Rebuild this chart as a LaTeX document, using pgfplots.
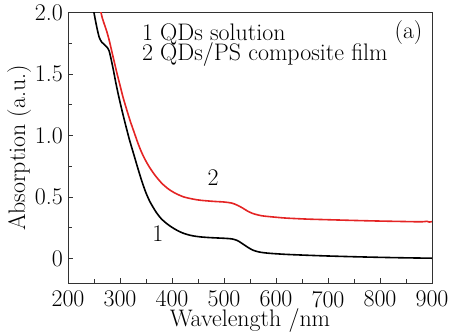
\documentclass[border=0pt]{standalone}
\usepackage{pgfplots}
\pgfplotsset{compat=1.18}
\definecolor{myred}{RGB}{228,36,36}
\definecolor{axgray}{RGB}{50,50,50}
\begin{document}
\begin{tikzpicture}[font=\fontsize{24}{28}\selectfont]
\begin{axis}[
  scale only axis, width=364bp, height=270.6bp,
  xmin=200, xmax=900, ymin=-0.2, ymax=2.0,
  xtick={200,300,...,900}, minor xtick={250,350,...,850},
  ytick={0,0.5,1.0,1.5,2.0}, yticklabels={0,0.5,1.0,1.5,2.0},
  minor ytick={0.25,0.75,1.25,1.75},
  tick pos=left, tick align=inside,
  major tick length=5bp, minor tick length=4bp,
  axis line style={axgray, line width=0.9bp},
  every tick/.style={axgray, line width=0.9bp},
  xticklabel style={inner sep=0pt, anchor=north, yshift=-7.5bp},
  yticklabel style={inner sep=0pt, anchor=east, xshift=-5bp},
  /pgf/number format/assume math mode=true,
  xlabel={Wavelength /nm},
  ylabel={Absorption (a.u.)},
  xlabel style={at={(axis description cs:0.5,-0.1590)}, anchor=base, inner sep=0pt},
  ylabel style={at={(axis description cs:-0.1181,0.5)}, anchor=base, inner sep=0pt, rotate=0},
  clip=true,
]
\addplot[black, line width=1.6bp, smooth, tension=0.45] coordinates {
(244,2.15) (250,2.0) (255,1.89) (260,1.80) (265,1.76) (270,1.74) (275,1.72)
(279,1.69) (282,1.64) (287,1.54) (292,1.43) (297,1.33) (303,1.22) (310,1.10)
(318,0.97) (326,0.855) (334,0.74) (342,0.63) (350,0.535) (358,0.46) (370,0.375)
(380,0.322) (390,0.285) (400,0.255) (410,0.23) (420,0.21) (430,0.196) (440,0.186)
(455,0.177) (475,0.171) (500,0.166) (515,0.161) (525,0.149) (533,0.129)
(540,0.109) (548,0.087) (556,0.069) (566,0.056) (576,0.049) (590,0.043)
(620,0.035) (660,0.028) (700,0.022) (750,0.016) (800,0.011) (850,0.007) (900,0.004)
};
\addplot[myred, line width=1.6bp, smooth, tension=0.45] coordinates {
(259,2.15) (263.5,2.0) (268,1.93) (274,1.855) (279,1.78) (284,1.69) (289,1.60)
(294,1.51) (300,1.41) (306,1.31) (313,1.21) (320,1.115) (327,1.03) (334,0.945)
(341,0.87) (349,0.80) (358,0.735) (368,0.675) (380,0.615) (392,0.57) (405,0.535)
(422,0.503) (440,0.485) (455,0.475) (480,0.466) (500,0.461) (515,0.452)
(525,0.436) (535,0.414) (545,0.388) (555,0.368) (566,0.355) (576,0.347)
(600,0.337) (620,0.330) (660,0.322) (700,0.317) (750,0.311) (800,0.306)
(850,0.302) (880,0.300) (890,0.304) (895,0.298) (900,0.302)
};
\node[anchor=base west, inner sep=0pt] at (axis cs:342,1.778) {1 QDs solution};
\node[anchor=base west, inner sep=0pt] at (axis cs:342,1.612) {2 QDs/PS composite film};
\node[anchor=base east, inner sep=0pt] at (axis cs:882,1.787) {(a)};
\node[anchor=base, inner sep=0pt] at (axis cs:479,0.597) {2};
\node[anchor=base, inner sep=0pt] at (axis cs:373,0.136) {1};
\coordinate (ll) at (rel axis cs:0,0);
\end{axis}
\pgfresetboundingbox
\path (ll) ++(-68bp,-52.7bp) rectangle ++(449bp,336bp);
\end{tikzpicture}
\end{document}
